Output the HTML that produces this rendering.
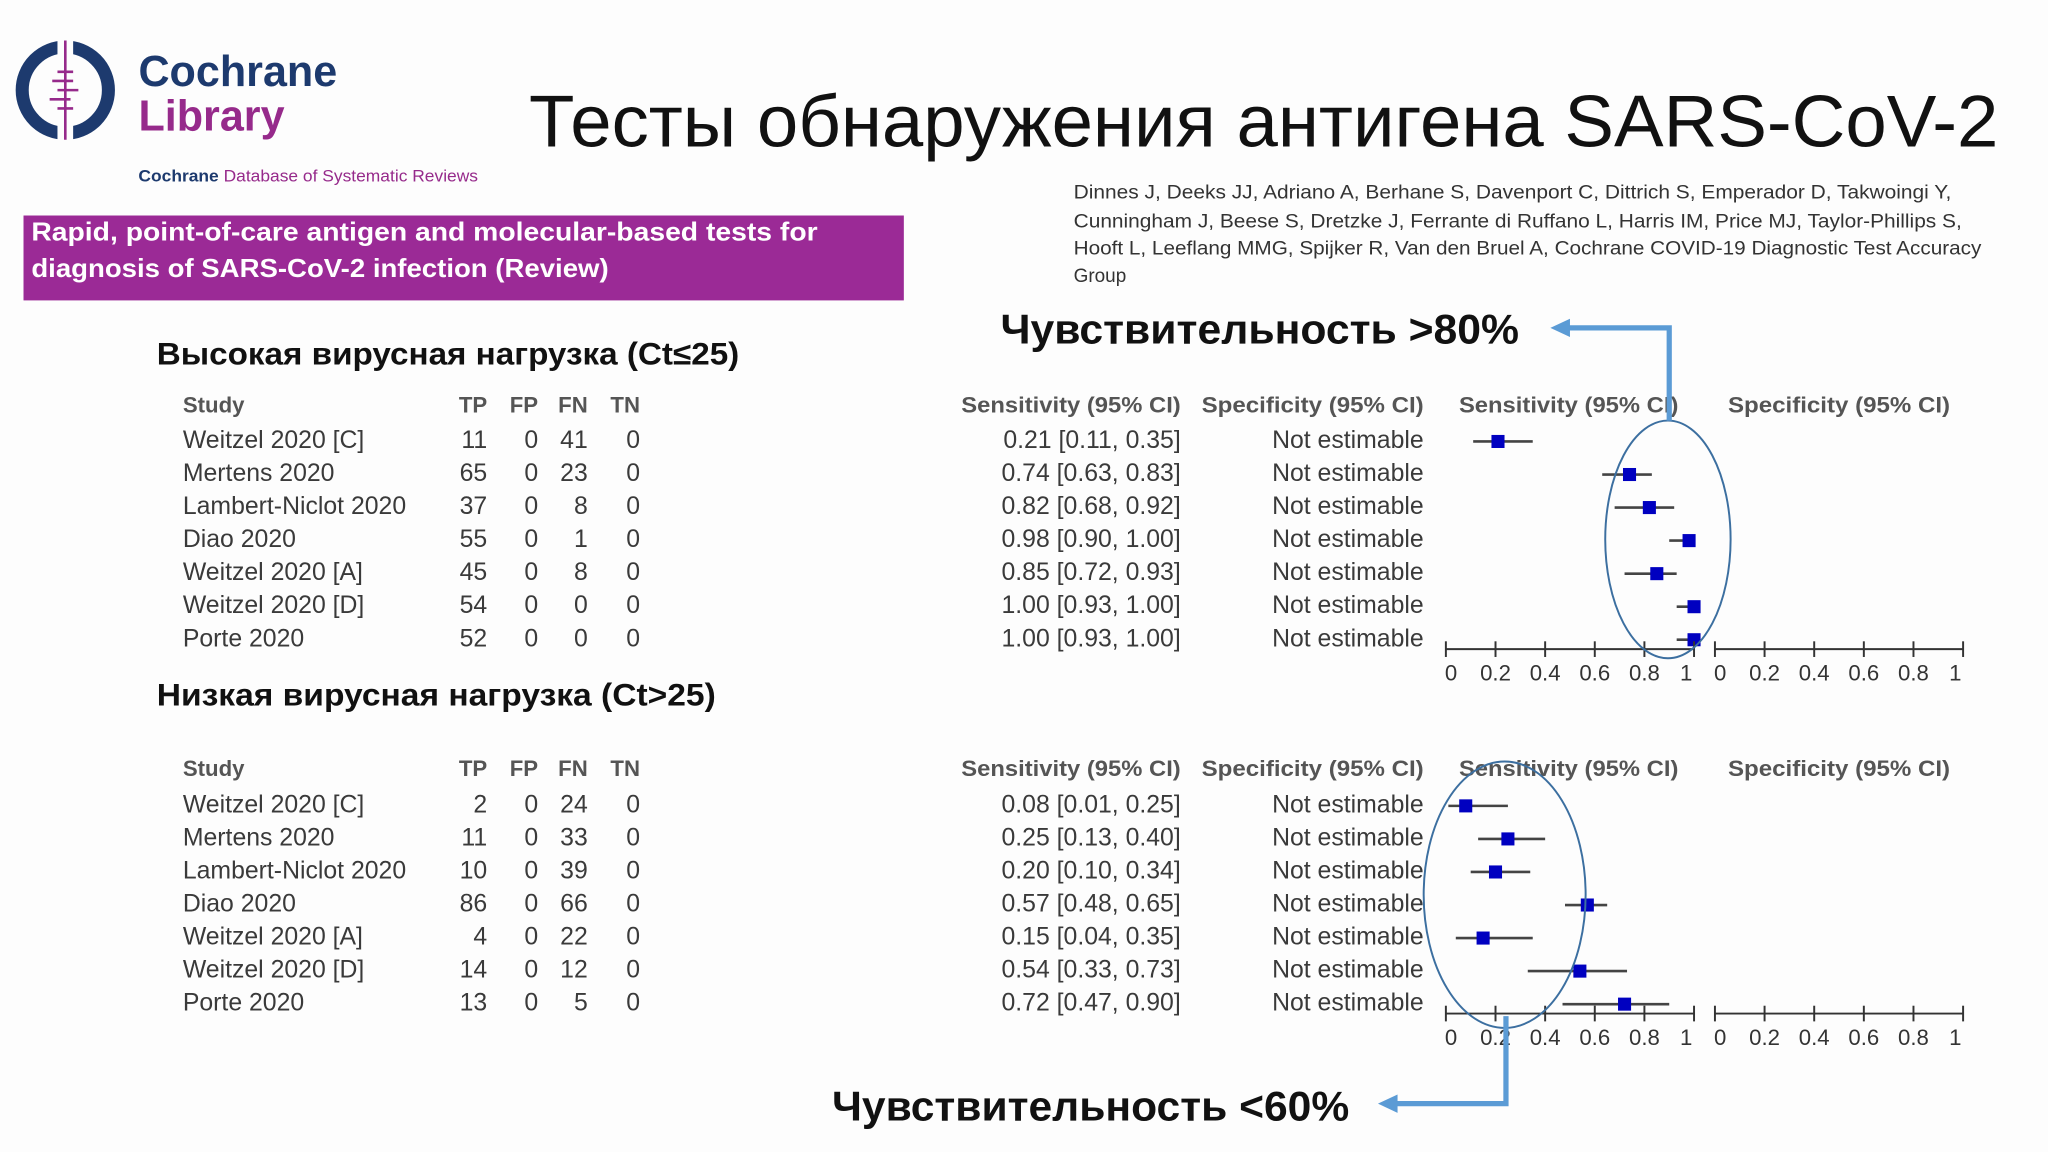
<!DOCTYPE html>
<html><head><meta charset="utf-8">
<style>
html,body{margin:0;padding:0;background:#fff;}
svg{display:block;font-family:"Liberation Sans",sans-serif;}
</style></head>
<body>
<svg id="s" width="2048" height="1152" viewBox="0 0 1568 882" xmlns="http://www.w3.org/2000/svg">
<rect width="1568" height="882" fill="#fdfdfd"/>
<g>
  <circle cx="50" cy="69" r="33" fill="none" stroke="#1d3a6e" stroke-width="10"/>
  <rect x="44" y="30" width="12" height="78" fill="#fdfdfd"/>
  <line x1="50" y1="31" x2="50" y2="107" stroke="#962a8b" stroke-width="2"/>
  <g stroke="#962a8b" stroke-width="2">
    <line x1="44" y1="55" x2="56" y2="55"/><line x1="40" y1="62" x2="56" y2="62"/>
    <line x1="44" y1="69" x2="60" y2="69"/><line x1="38" y1="76" x2="54" y2="76"/>
    <line x1="44" y1="83" x2="56" y2="83"/>
  </g>
  <text x="106" y="66" font-size="33" font-weight="bold" fill="#1d3a6e">Cochrane</text>
  <text x="106" y="100" font-size="33" font-weight="bold" fill="#962a8b">Library</text>
  <text x="106" y="139" font-size="12.5" fill="#962a8b" textLength="260" lengthAdjust="spacingAndGlyphs"><tspan font-weight="bold" fill="#1d3a6e">Cochrane</tspan> Database of Systematic Reviews</text>
</g>
<text x="405" y="112" font-size="56" fill="#111" textLength="1125" lengthAdjust="spacingAndGlyphs">Тесты обнаружения антигена SARS-CoV-2</text>
<g>
  <rect x="18" y="165" width="674" height="65" fill="#9b2a96"/>
  <text x="24" y="184" font-size="20" font-weight="bold" fill="#fff" textLength="602" lengthAdjust="spacingAndGlyphs">Rapid, point-of-care antigen and molecular-based tests for</text>
  <text x="24" y="212" font-size="20" font-weight="bold" fill="#fff" textLength="442" lengthAdjust="spacingAndGlyphs">diagnosis of SARS-CoV-2 infection (Review)</text>
</g>
<g font-size="14.5" fill="#333">
  <text x="822" y="152" textLength="672" lengthAdjust="spacingAndGlyphs">Dinnes J, Deeks JJ, Adriano A, Berhane S, Davenport C, Dittrich S, Emperador D, Takwoingi Y,</text>
  <text x="822" y="174" textLength="680" lengthAdjust="spacingAndGlyphs">Cunningham J, Beese S, Dretzke J, Ferrante di Ruffano L, Harris IM, Price MJ, Taylor-Phillips S,</text>
  <text x="822" y="195" textLength="695" lengthAdjust="spacingAndGlyphs">Hooft L, Leeflang MMG, Spijker R, Van den Bruel A, Cochrane COVID-19 Diagnostic Test Accuracy</text>
  <text x="822" y="216">Group</text>
</g>
<text x="766" y="263" font-size="32" font-weight="bold" fill="#111" textLength="397" lengthAdjust="spacingAndGlyphs">Чувствительность &gt;80%</text>
<text x="637" y="858" font-size="32" font-weight="bold" fill="#111" textLength="396" lengthAdjust="spacingAndGlyphs">Чувствительность &lt;60%</text>
<text x="120" y="279" font-size="24" font-weight="bold" fill="#111" textLength="446" lengthAdjust="spacingAndGlyphs">Высокая вирусная нагрузка (Ct≤25)</text>
<text x="120" y="540" font-size="24" font-weight="bold" fill="#111" textLength="428" lengthAdjust="spacingAndGlyphs">Низкая вирусная нагрузка (Ct&gt;25)</text>
<g id="plots"></g>
<g>
  <ellipse cx="1277" cy="413" rx="48" ry="91" fill="none" stroke="#3c6fa0" stroke-width="1.5"/>
  <ellipse cx="1152" cy="685" rx="62" ry="102" fill="none" stroke="#3c6fa0" stroke-width="1.5"/>
  <polyline points="1278,322 1278,251 1200,251" fill="none" stroke="#5b9bd5" stroke-width="4"/>
  <polygon points="1187,251 1202,244 1202,258" fill="#5b9bd5"/>
  <polyline points="1153,778 1153,845 1068,845" fill="none" stroke="#5b9bd5" stroke-width="4"/>
  <polygon points="1055,845 1070,838 1070,852" fill="#5b9bd5"/>
</g>
</svg>
<script>
const studies = ["Weitzel 2020 [C]","Mertens 2020","Lambert-Niclot 2020","Diao 2020","Weitzel 2020 [A]","Weitzel 2020 [D]","Porte 2020"];
const highTP = [11,65,37,55,45,54,52];
const highFN = [41,23,8,1,8,0,0];
const highSens = [0.21,0.74,0.82,0.98,0.85,1.00,1.00];
const highLo = [0.11,0.63,0.68,0.90,0.72,0.93,0.93];
const highHi = [0.35,0.83,0.92,1.00,0.93,1.00,1.00];
const lowTP = [2,11,10,86,4,14,13];
const lowFN = [24,33,39,66,22,12,5];
const lowSens = [0.08,0.25,0.20,0.57,0.15,0.54,0.72];
const lowLo = [0.01,0.13,0.10,0.48,0.04,0.33,0.47];
const lowHi = [0.25,0.40,0.34,0.65,0.35,0.73,0.90];
const tickLabels = ["0","0.2","0.4","0.6","0.8","1"];
const tickVals = [0,0.2,0.4,0.6,0.8,1];

const NS="http://www.w3.org/2000/svg";
const root=document.getElementById('plots');
function mk(tag,attrs,parent,txt){const e=document.createElementNS(NS,tag);for(const k in attrs)e.setAttribute(k,attrs[k]);if(txt!==undefined)e.textContent=txt;parent.appendChild(e);return e;}
const sx=v=>1107+v*190, px=v=>1313+v*190;
const f2=v=>v.toFixed(2);
function panel(name,hy,rowY0,axisY,tp,fn,sens,lo,hi){
  const g=mk('g',{},root);
  
  
  const hdr=[["Study",140,"start",0],["TP",373,"end",0],["FP",412,"end",0],["FN",450,"end",0],["TN",490,"end",0],["Sensitivity (95% CI)",736,"start",168],["Specificity (95% CI)",920,"start",170],["Sensitivity (95% CI)",1117,"start",168],["Specificity (95% CI)",1323,"start",170]];
  hdr.forEach(h=>{const at={x:h[1],y:hy,'font-size':17,'font-weight':'bold',fill:'#555','text-anchor':h[2]};
    if(h[3]){at.textLength=h[3];at.lengthAdjust='spacingAndGlyphs';}
    const t=mk('text',at,g,h[0]);
    
    });
  studies.forEach((s,i)=>{
    const y=rowY0+i*25.3;
    const r=mk('g',{'font-size':19,fill:'#3a3a3a'},g);
    
    
    mk('text',{x:140,y:y},r,s);
    mk('text',{x:373,y:y,'text-anchor':'end'},r,tp[i]);
    mk('text',{x:412,y:y,'text-anchor':'end'},r,0);
    mk('text',{x:450,y:y,'text-anchor':'end'},r,fn[i]);
    mk('text',{x:490,y:y,'text-anchor':'end'},r,0);
    mk('text',{x:904,y:y,'text-anchor':'end'},r,f2(sens[i])+" ["+f2(lo[i])+", "+f2(hi[i])+"]");
    mk('text',{x:1090,y:y,'text-anchor':'end'},r,"Not estimable");
    const cy=y-5;
    const l=mk('line',{x1:sx(lo[i]),x2:sx(hi[i]),y1:cy,y2:cy,stroke:'#444','stroke-width':2},g);
    
    
    const q=mk('rect',{x:sx(sens[i])-5,y:cy-5,width:10,height:10,fill:'#0000c0'},g);
    
    
  });
  [sx,px].forEach((fx,k)=>{
    const a=mk('g',{},g);
    
    
    mk('line',{x1:fx(0),x2:fx(1),y1:axisY,y2:axisY,stroke:'#333','stroke-width':1.5},a);
    tickVals.forEach((v,j)=>{
      mk('line',{x1:fx(v),x2:fx(v),y1:axisY-6,y2:axisY+6,stroke:'#333','stroke-width':1.5},a);
      const off = j===0 ? 4 : (j===tickVals.length-1 ? -6 : 0);
      mk('text',{x:fx(v)+off,y:axisY+24,'font-size':17,fill:'#333','text-anchor':'middle'},a,tickLabels[j]);
    });
  });
}
panel('high-load-forest-plot',316,343,497,highTP,highFN,highSens,highLo,highHi);
panel('low-load-forest-plot',594,622,776,lowTP,lowFN,lowSens,lowLo,lowHi);
</script>
</body></html>
